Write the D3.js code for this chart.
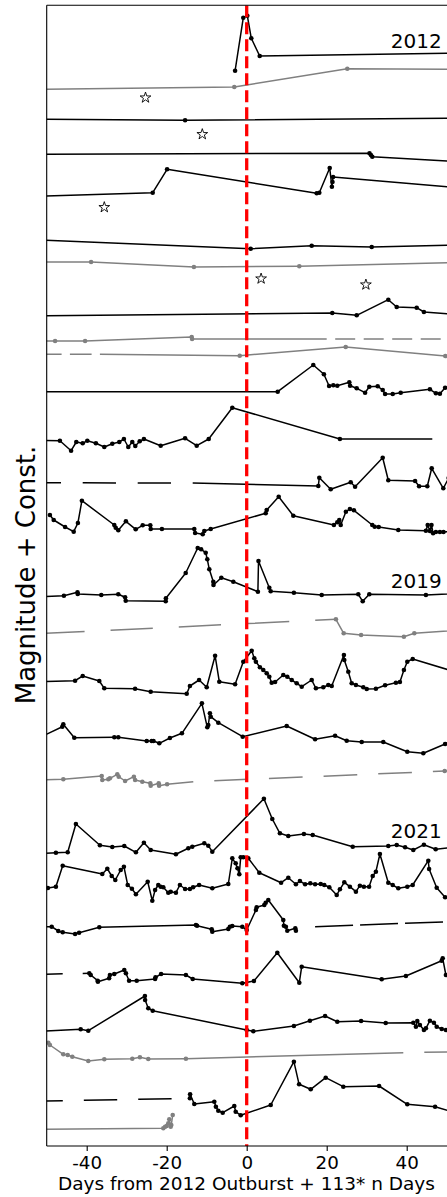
<!DOCTYPE html>
<html><head><meta charset="utf-8">
<script src="https://cdn.jsdelivr.net/npm/d3@7"></script>
<style>body{margin:0;background:#fff}svg{display:block}</style>
</head><body>
<svg id="c" width="447" height="1197"></svg>
<script>
// ---- DATA: [day, magnitude + const]; third element 0 = line vertex without a measured point ----
const t01 = [[-2.9,3.535],[-0.85,0.885],[0.15,0.785],[1.15,1.915],[3.25,2.8],[60,2.635]];
const t02 = [[-60,4.49],[-3.1,4.35],[25.15,3.435],[60,3.465]];
const t03 = [[-60,5.95],[-15.4,6.015],[60,5.9]];
const t04 = [[-60,7.715],[30.7,7.665],[31.05,7.75],[31.4,7.835],[60,8.165]];
const t05 = [[-60,9.86],[-23.5,9.635],[-19.9,8.465],[17.5,9.665],[18.15,9.635],[20.75,8.4],[21.3,9.335],[21.45,9.1],[21.6,8.85],[60,9.5]];
const t06 = [[-60,11.935],[1.0,12.435],[16.25,12.285],[31.25,12.35],[60,12.22]];
const t07 = [[-60,13.1],[-38.9,13.1],[-13.2,13.35],[13.15,13.315],[60,13.085]];
const t08 = [[-60,15.8],[21.4,15.65],[27.5,15.765],[35.4,14.985],[37.5,15.35],[42.5,15.385],[44.3,15.6],[60,15.85]];
const t09 = [[-60,17.035],[-47.9,17.05],[-40.4,17.05],[-13.75,16.85],[-13.65,16.95],[20,16.95,0]];
const t10 = [[-36.7,17.715,0],[-1.75,17.785],[24.75,17.35],[49.65,17.8]];
const t11 = [[-60,19.585],[7.75,19.585],[16.65,18.25],[19.3,18.715],[20.6,19.3],[21.65,19.265],[22.65,19.285],[25.65,19.115],[25.85,19.285],[27.5,19.415],[29.6,19.635],[30.65,19.335],[32.75,19.315],[34,19.5],[34.6,19.7],[36.5,19.7],[38.5,19.635],[45.8,19.465],[47.3,19.665],[48.3,19.685],[49.6,19.385],[55,19.3]];
const t12 = [[-60,22.0],[-46.7,22.035],[-43.9,22.535],[-42.6,22.1],[-41,22.165],[-39.85,22.035],[-37.7,22.165],[-35.6,22.35],[-33.6,22.185],[-31.85,22.1],[-30.7,21.95],[-29.6,22.35],[-28.6,22.1],[-27.85,22.3],[-26.75,22.065],[-25.7,21.95],[-21.5,22.285],[-15.4,21.915],[-12.5,22.285],[-9.5,21.95],[-3.6,20.385],[23.3,21.95],[46.4,21.95,0]];
const t13 = [[-13.5,24.15,0],[17.9,24.3],[18.15,23.885],[21,24.465],[26,24.115],[27.1,24.335],[34,22.885],[35.4,24.015],[42.1,24.05],[43.1,24.315],[45.15,24.315],[46.25,23.415],[49.15,24.415],[50.5,23.9]];
const t14 = [[-49.2,25.75],[-48.25,26.0],[-45.4,26.35],[-43.25,26.585],[-42.2,26.15],[-41.2,25.035],[-33.1,26.25],[-32.75,26.385],[-32.1,26.515],[-30.2,26.065],[-27.75,26.465],[-26,26.265],[-24.1,26.265],[-24,26.45],[-21.2,26.45],[-13.1,26.45],[-12.9,26.65],[-11,26.715],[-10.6,26.55],[-9,26.45],[4.75,25.665],[5,25.5],[8,24.835],[11.65,25.785],[21.8,26.25],[22.65,26.115],[23.15,26.0],[23.5,26.25],[24.8,25.585],[25.8,25.45],[26.8,25.515],[31.4,26.25],[32,26.335],[33,26.35],[37.9,26.5],[44.8,26.535],[45.25,26.25],[45.8,26.55],[46.2,26.25],[46.6,26.665],[47.3,26.6],[48.3,26.6],[49.2,26.6],[55,26.5]];
const t15 = [[-60,29.92],[-45.7,29.785],[-42.3,29.615],[-42.25,29.7],[-36.35,29.75],[-32.1,29.715],[-30.4,29.865],[-30.25,30.035],[-20.25,30.065],[-20.2,29.915],[-15.25,28.65],[-12.25,27.4],[-11.4,27.465],[-10.25,27.635],[-9.85,27.965],[-9.35,28.465],[-8.35,29.085],[-8.3,29.25],[-6.35,28.885],[-3.35,29.085],[2.8,29.585],[2.95,28.05],[5.65,29.385],[6.0,29.565],[11.8,29.635],[18.75,29.75],[27.9,29.715],[29,30.065],[30.65,29.715],[44.8,29.75],[60,29.6]];
const t16 = [[22.3,30.965],[24.25,31.665],[28.6,31.75],[39.3,31.835],[41.9,31.665],[60,31.41]];
const t17 = [[-60,34.125],[-42.9,34.035],[-41,33.8],[-36.85,34.05],[-35.6,34.415],[-27.9,34.435],[-24,34.585],[-15,34.685],[-14.2,34.3],[-11.9,34.0],[-10,34.365],[-7.9,32.785],[-6.85,34.085],[-2.9,34.215],[-0.85,33.085],[1.25,32.535],[1.9,32.915],[2.3,33.085],[3.3,33.365],[4.15,33.5],[5,33.665],[5.65,33.835],[6.25,34.135],[7.1,34.1],[9.15,33.75],[10.15,33.835],[11.25,34.0],[12.5,34.165],[13.75,34.335],[16.25,34.0],[17.3,34.415],[19.15,34.365],[20.4,34.25],[21.25,34.3],[24.3,32.75],[24.4,33.0],[25.4,33.585],[26.25,34.165],[27.3,34.25],[29.15,34.365],[30,34.45],[32.3,34.435],[34.6,34.265],[37.3,34.135],[38.3,34.1],[39.3,33.5],[40.15,33.085],[41.5,32.95],[51,33.525]];
const t18 = [[-52,36.9],[-46.1,36.335],[-45.85,36.215],[-43.1,36.885],[-33.1,36.865],[-32.1,36.865],[-25,37.05],[-23.75,37.05],[-23.3,37.05],[-21.85,37.165],[-19.2,36.9],[-16.2,36.665],[-11.2,35.165],[-9.85,36.365],[-9.6,36.25],[-9.2,35.665],[-9.0,35.835],[-7.1,36.135],[-1,36.835],[10,36.3],[17.1,36.965],[22.1,36.785],[25,37.035],[28.75,37.1],[34.15,37.1],[40.15,37.585],[44.15,37.665],[49.6,37.2],[52,36.9]];
const t19 = [[-60,39.05],[-45.85,38.965],[-36.25,38.8],[-36.1,39.0],[-34.6,38.965],[-34.2,38.915],[-32.35,38.715],[-32.0,38.835],[-30.4,39.05],[-28.2,38.835],[-27.9,39.0],[-26.1,39.085],[-24.1,39.165],[-24.0,39.285],[-22.0,39.165],[-21.9,39.285],[-19.9,39.215],[-13.35,39.085,0]];
const t19b = [[49.5,38.55],[55,38.5]];
const t20 = [[-60,42.75],[-47.7,42.635],[-44.75,42.615],[-42.7,41.2],[-36.7,42.265],[-33.6,42.35],[-30.6,42.3],[-27.7,42.615],[-25.7,42.135],[-24,42.5],[-17.7,42.715],[-14.6,42.415],[-13.6,42.335],[-10.6,42.165],[-9.6,42.285],[-8.6,42.585],[4.3,39.935],[6.4,40.95],[8.3,41.665],[10.4,41.8],[14.3,41.7],[16.5,41.75],[26.5,42.335],[35.4,42.3],[37.5,42.25],[39.6,42.365],[41.65,42.5],[44.3,42.235],[47.25,42.465],[55,42.3]];
const t21 = [[-60,44.425],[-49.7,44.4],[-47.7,44.335],[-46,43.285],[-36.1,43.7],[-34.85,43.435],[-33.75,43.8],[-32.85,44.0],[-31.5,43.5],[-30.7,43.335],[-29.75,44.25],[-28.7,44.435],[-27.7,44.715],[-24.75,44.085],[-23.6,45.035],[-22.9,44.5],[-22.1,44.25],[-21.5,44.335],[-20.85,44.365],[-19.6,44.635],[-19.0,44.585],[-17.7,44.635],[-16.7,44.25],[-15.4,44.45],[-14.2,44.45],[-13.4,44.365],[-11.9,44.25],[-8.6,44.415],[-4.6,44.2],[-3.6,42.915],[-2.75,43.165],[-2.3,43.415],[-1.85,43.715],[-1.5,42.865],[-0.85,42.865],[0.4,42.915],[3.15,43.635],[8.6,44.135],[10.4,43.885],[12.3,44.215],[13.3,44.05],[14.6,44.215],[15.9,44.165],[17.1,44.215],[18.5,44.2],[19.4,44.25],[20.65,44.365],[22.5,44.75],[23.3,44.465],[24.4,44.115],[25.8,44.335],[27.3,44.585],[28.3,44.285],[29.3,44.335],[30.6,44.335],[31.5,43.8],[32.3,43.585],[33.3,42.7],[35.4,44.135],[36.5,44.25],[37.9,44.415],[40.15,44.335],[41.5,44.25],[45.4,43.035],[45.6,43.45],[47.5,44.385],[49.6,44.865],[55,44.5]];
const t22 = [[-60,46.335],[-48.75,46.335],[-47.1,46.55],[-46,46.615],[-42.9,46.7],[-41.9,46.635],[-36.85,46.365],[-12.7,46.25],[-12.4,46.285],[-8.75,46.465],[-8.6,46.585],[-4.6,46.45],[-4.2,46.335],[-3.6,46.3],[-1.1,46.335],[0,46.5],[2.3,45.5],[2.5,45.365],[4.4,45.25],[4.75,45.135],[5.4,45.0],[9.15,46.0],[9.3,46.285],[9.8,46.335],[10.15,46.535],[12.15,46.415],[12.3,46.535]];
const t23 = [[-39.35,48.665],[-39.0,48.75],[-37.25,49.035],[-37.2,49.085],[-34.4,48.915],[-34.2,48.75],[-33.1,48.7],[-30.6,48.5],[-30.2,48.665],[-29.4,49.035],[-27.5,49.035],[-22.9,48.95],[-22.8,48.865],[-21.4,48.7],[-15.2,48.75],[-13.5,48.95],[-1.1,49.165],[1.8,49.05],[7.65,47.635],[13.15,49.135],[13.75,48.335],[33.75,48.965],[39.8,48.8],[48.75,48.035],[49.0,47.915],[49.8,48.75],[55,49.3]];
const t24 = [[-60,51.65],[-41.5,51.465],[-39.6,51.535],[-25.45,49.8],[-25.4,50.0],[-24.6,50.415],[-23.5,50.535],[0,51.5],[1.65,51.565],[11.8,51.3],[15.8,51.035],[19.6,50.8],[22.65,51.085],[28.6,51.05],[34.75,51.15],[41.65,51.135],[42.3,51.335],[42.65,51.05],[43.3,51.25],[44.3,51.5],[44.8,51.415],[45.8,51.035],[46.8,51.135],[47.5,51.335],[48.75,51.45],[49.8,51.5],[55,51.5]];
const t25 = [[-49.6,52.135],[-49.2,52.25],[-45.85,52.715],[-44.75,52.75],[-43.6,52.835],[-39.6,53.05],[-35.6,52.965],[-28.6,52.935],[-26.7,52.865],[-24.6,52.95],[-15.2,52.935],[39.15,52.635,0]];
const t26 = [[-14.2,54.915],[-14.15,54.715],[-13.1,55.2],[-8.1,55.085],[-7.7,55.335],[-7.1,55.535],[-6.0,55.635],[-3.1,55.3],[-2.75,55.585],[-1.5,55.765],[6.0,55.25],[11.8,53.085],[13.1,54.215],[16.0,54.465],[19.75,53.885],[24.15,54.335],[33.1,54.3],[40.15,55.215],[47.1,55.335],[55,55.8]];
const t27 = [[-60,56.475],[-20.85,56.415],[-20.4,56.335],[-20.0,56.3],[-19.6,56.165],[-19.35,55.965],[-19.0,56.335],[-18.85,56.25],[-18.5,55.75]];

// connecting (gap) lines, drawn dashed; first point = where the dash pattern starts
const g09 = [[20,16.95],[60,16.95]];
const g10 = [[-36.7,17.715],[-60,17.715]];
const g13 = [[-13.5,24.15],[-60,24.135]];
const g16 = [[22.3,30.965],[-60,31.76]];
const g19 = [[-13.35,39.085],[49.5,38.55]];
const g22 = [[17.1,46.335],[60,46.015]];
const g23 = [[-39.35,48.665],[-60,48.75]];
const g25 = [[39.15,52.635],[60,52.565]];
const g26 = [[-14.2,54.915],[-60,55.085]];

// single-epoch detections (open stars)
const stars = [[-25.3,4.885],[-11.1,6.715],[-35.6,10.365],[3.6,13.935],[29.8,14.235]];

const xTicks = [-40,-20,0,20,40];
const yearLabels = ["2012","2019","2021"];
const yearLabelDay = [48.75,48.75,48.75];
const yearLabelMag = [2.415,29.415,41.915];
const outburstDay = 0;

// ---- STYLES ----
const K = "#000000", G = "#808080";
const solidRuns = [
  [t01,K],[t02,G],[t03,K],[t04,K],[t05,K],[t06,K],[t07,G],[t08,K],[t09,G],[t10,G],
  [t11,K],[t12,K],[t13,K],[t14,K],[t15,K],[t16,G],[t17,K],[t18,K],[t19,G],[t19b,G],
  [t20,K],[t21,K],[t22,K],[t23,K],[t24,K],[t25,G],[t26,K],[t27,G]
];
const dashRuns = [
  [g09,G,"20,8.5",20],[g10,G,"21.7,8.3",21.7],[g13,K,"33.3,21.7",33.3],
  [g16,G,"42.3,26",21.6],[g19,G,"33.7,21",33.7],[g22,K,"38,7",0],
  [g23,K,"33,20",26.4],[g25,G,"33,21",33],[g26,K,"33.4,21",36.1]
];

const svg = d3.select("#c");
const x = d3.scaleLinear().domain([-50,50]).range([46.7,446.7]);
const y = d3.scaleLinear().domain([0.265,57.3]).range([5.3,1146]);
const FONT = "DejaVu Sans, sans-serif";

svg.append("defs").append("clipPath").attr("id","pc")
  .append("rect").attr("x",x(-50)).attr("y",y(0.265)).attr("width",447-x(-50)+1).attr("height",y(57.3)-y(0.265));

const plot = svg.append("g").attr("clip-path","url(#pc)");
const line = d3.line().x(d=>x(d[0])).y(d=>y(d[1]));

dashRuns.forEach(([d,c,da,off])=>{
  plot.append("path").attr("d",line(d)).attr("fill","none").attr("stroke",c)
    .attr("stroke-width",1.5).attr("stroke-dasharray",da).attr("stroke-dashoffset",off);
});
solidRuns.forEach(([d,c])=>{
  plot.append("path").attr("d",line(d)).attr("fill","none").attr("stroke",c)
    .attr("stroke-width",1.5).attr("stroke-linejoin","round");
  plot.append("g").selectAll("circle").data(d.filter(p=>p[2]!==0)).join("circle")
    .attr("cx",p=>x(p[0])).attr("cy",p=>y(p[1])).attr("r",2.3).attr("fill",c);
});
const star = d3.symbol().type(d3.symbolStar).size(36);
plot.append("g").selectAll("path").data(stars).join("path")
  .attr("d",star).attr("transform",p=>`translate(${x(p[0])},${y(p[1])})`)
  .attr("fill","none").attr("stroke","#000").attr("stroke-width",0.9);

// outburst reference line
plot.append("line").attr("x1",x(outburstDay)).attr("x2",x(outburstDay))
  .attr("y1",y(0.265)).attr("y2",y(57.3))
  .attr("stroke","#ff0000").attr("stroke-width",3.3).attr("stroke-dasharray","12,5");

// year labels
svg.append("g").selectAll("text").data(yearLabels).join("text")
  .attr("x",(d,i)=>x(yearLabelDay[i])).attr("y",(d,i)=>y(yearLabelMag[i]))
  .attr("text-anchor","end").attr("font-family",FONT).attr("font-size",20).text(d=>d);

// spines
const sp = svg.append("g").attr("stroke","#000").attr("stroke-width",1.1);
sp.append("line").attr("x1",x(-50)).attr("x2",x(-50)).attr("y1",y(0.265)).attr("y2",y(57.3));
sp.append("line").attr("x1",x(-50)).attr("x2",448).attr("y1",y(0.265)).attr("y2",y(0.265));
sp.append("line").attr("x1",x(-50)).attr("x2",448).attr("y1",y(57.3)).attr("y2",y(57.3));

// x axis
const ax = svg.append("g").attr("transform",`translate(0,${y(57.3)})`)
  .call(d3.axisBottom(x).tickValues(xTicks).tickSize(4.9).tickPadding(5.3).tickFormat(d=>String(d)));
ax.select(".domain").remove();
ax.selectAll("line").attr("stroke","#000").attr("stroke-width",1.1);
ax.selectAll("text").attr("font-family",FONT).attr("font-size",18.3).attr("fill","#000");

svg.append("text").attr("x",246.5).attr("y",1190).attr("text-anchor","middle")
  .attr("font-family",FONT).attr("font-size",18.5).text("Days from 2012 Outburst + 113* n Days");
svg.append("text").attr("transform","translate(35,575) rotate(-90)").attr("text-anchor","middle")
  .attr("font-family",FONT).attr("font-size",26).text("Magnitude + Const.");
</script>
</body></html>
